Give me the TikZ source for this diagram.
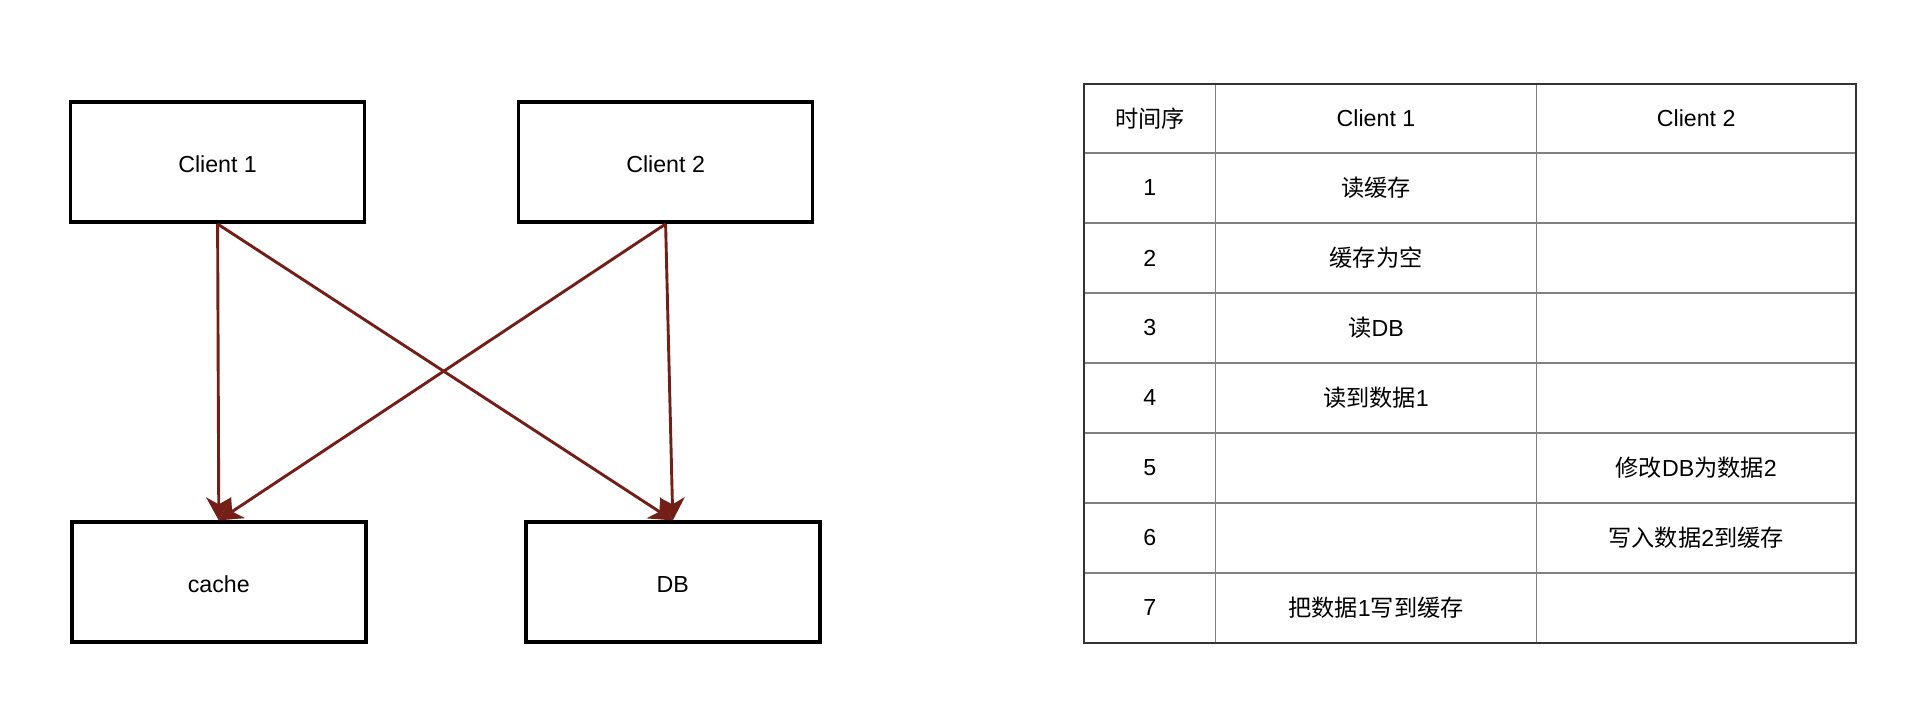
\documentclass[tikz,border=0pt]{standalone}
\usepackage{fontspec}
\setmainfont{Liberation Sans}
\newfontfamily\cjk{Noto Sans CJK SC}
\usetikzlibrary{arrows.meta}
\definecolor{arr}{RGB}{115,30,22}
\definecolor{grid}{RGB}{128,128,128}
\begin{document}
\begin{tikzpicture}[x=0.5pt,y=-0.5pt,
  every node/.style={font=\fontsize{11.6pt}{13pt}\selectfont, inner sep=0pt},
  box/.style={draw=black, line width=1.8pt, minimum width=147pt, minimum height=60pt, text height=10.8pt, text depth=0pt},
  conn/.style={draw=arr, line width=1.45pt, -{Stealth[length=11.5pt,width=12.5pt,inset=3.5pt]}},
  cell/.style={anchor=center}]
\useasboundingbox (0,0) rectangle (1906,726);
% boxes
\node[box] (c1) at (217.6,162.2) {Client 1};
\node[box] (c2) at (665.6,162.2) {Client 2};
\node[box] (cache) at (218.8,582.2) {cache};
\node[box] (db) at (672.8,582.2) {DB};
% connectors
\draw[conn] (c1.south) -- (cache.north);
\draw[conn] (c1.south) -- (db.north);
\draw[conn] (c2.south) -- (cache.north);
\draw[conn] (c2.south) -- (db.north);
% table grid
\foreach \y in {153,223,293,363,433,503,573}
  \draw[grid, line width=0.6pt] (1084,\y) -- (1856,\y);
\foreach \x in {1215.6,1536.5}
  \draw[grid, line width=0.6pt] (\x,84) -- (\x,643);
\draw[black!80, line width=0.8pt] (1084,84) rectangle (1856,643);
% header
\node[cell] (h0) at (1149.8,118.5) {\cjk 时间序};
\node[cell] (h1) at (1376,118.5) {Client 1};
\node[cell] (h2) at (1696.2,118.5) {Client 2};
% rows
\node[cell] (r1a) at (1149.8,188) {1};
\node[cell] (r1b) at (1376,188) {\cjk 读缓存};
\node[cell] (r2a) at (1149.8,258) {2};
\node[cell] (r2b) at (1376,258) {\cjk 缓存为空};
\node[cell] (r3a) at (1149.8,328) {3};
\node[cell] (r3b) at (1376,328) {{\cjk 读}DB};
\node[cell] (r4a) at (1149.8,398) {4};
\node[cell] (r4b) at (1376,398) {{\cjk 读到数据}1};
\node[cell] (r5a) at (1149.8,468) {5};
\node[cell] (r5c) at (1696.2,468) {{\cjk 修改}DB{\cjk 为数据}2};
\node[cell] (r6a) at (1149.8,538) {6};
\node[cell] (r6c) at (1696.2,538) {{\cjk 写入数据}2{\cjk 到缓存}};
\node[cell] (r7a) at (1149.8,608) {7};
\node[cell] (r7b) at (1376,608) {{\cjk 把数据}1{\cjk 写到缓存}};
\end{tikzpicture}
\end{document}
